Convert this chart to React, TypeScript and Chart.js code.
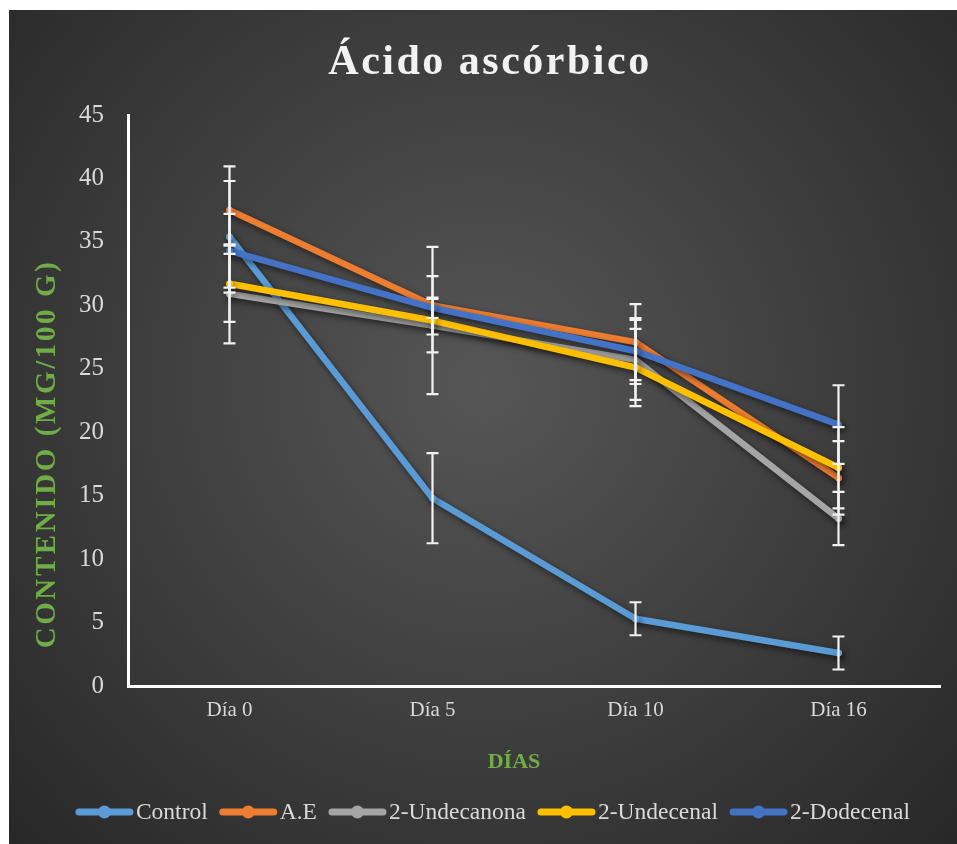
import React, { useEffect, useRef } from "react";
import { Chart, registerables } from "chart.js";

Chart.register(...registerables);

const categories = ["Día 0", "Día 5", "Día 10", "Día 16"];
const seriesNames = ["Control", "A.E", "2-Undecanona", "2-Undecenal", "2-Dodecenal"];
const seriesColors = ["#5B9BD5", "#ED7D31", "#A5A5A5", "#FFC000", "#4472C4"];

const controlValues = [35.4, 14.8, 5.3, 2.6];
const aeValues = [37.5, 30.0, 27.1, 16.4];
const undecanonaValues = [30.9, 28.4, 25.7, 13.2];
const undecenalValues = [31.7, 28.8, 25.1, 17.2];
const dodecenalValues = [34.3, 29.8, 26.4, 20.6];

const controlErrors = [4.4, 3.55, 1.3, 1.3];
const aeErrors = [3.45, 2.3, 3.0, 2.9];
const undecanonaErrors = [3.9, 2.1, 3.15, 2.1];
const undecenalErrors = [3.0, 5.8, 3.05, 3.2];
const dodecenalErrors = [2.9, 0.8, 2.6, 3.1];

const yTicks = [0, 5, 10, 15, 20, 25, 30, 35, 40, 45];

const titleText = "Ácido ascórbico";
const yTitleText = "CONTENIDO (MG/100 G)";
const xTitleText = "DÍAS";

const allValues = [controlValues, aeValues, undecanonaValues, undecenalValues, dodecenalValues];
const allErrors = [controlErrors, aeErrors, undecanonaErrors, undecenalErrors, dodecenalErrors];

const SERIF = "'Liberation Serif', 'Times New Roman', serif";

const backgroundPlugin = {
  id: "bgGradient",
  beforeDraw(chart: any) {
    const { ctx, width, height } = chart;
    ctx.save();
    const g = ctx.createRadialGradient(width / 2, height * 0.45, 0, width / 2, height * 0.45, Math.max(width, height) * 0.72);
    g.addColorStop(0, "#565656");
    g.addColorStop(1, "#262626");
    ctx.fillStyle = g;
    ctx.fillRect(0, 0, width, height);
    ctx.restore();
  },
};

const shadowPlugin = {
  id: "lineShadow",
  beforeDatasetsDraw(chart: any) {
    const ctx = chart.ctx;
    ctx.save();
    ctx.shadowColor = "rgba(0,0,0,0.55)";
    ctx.shadowBlur = 6;
    ctx.shadowOffsetX = 2;
    ctx.shadowOffsetY = 3;
  },
  afterDatasetsDraw(chart: any) {
    chart.ctx.restore();
  },
};

const errorBarPlugin = {
  id: "errorBars",
  afterDatasetsDraw(chart: any) {
    const ctx = chart.ctx;
    const yScale = chart.scales.y;
    ctx.save();
    ctx.shadowColor = "transparent";
    ctx.strokeStyle = "#f2f2f2";
    ctx.lineWidth = 2.2;
    chart.data.datasets.forEach((ds: any, di: number) => {
      const meta = chart.getDatasetMeta(di);
      const errs = allErrors[di];
      meta.data.forEach((pt: any, i: number) => {
        const v = ds.data[i];
        const e = errs[i];
        const x = pt.x;
        const yTop = yScale.getPixelForValue(v + e);
        const yBot = yScale.getPixelForValue(v - e);
        ctx.beginPath();
        ctx.moveTo(x, yTop);
        ctx.lineTo(x, yBot);
        ctx.moveTo(x - 6, yTop);
        ctx.lineTo(x + 6, yTop);
        ctx.moveTo(x - 6, yBot);
        ctx.lineTo(x + 6, yBot);
        ctx.stroke();
      });
    });
    ctx.restore();
  },
};

const textPlugin = {
  id: "texts",
  afterDraw(chart: any) {
    const { ctx } = chart;
    ctx.save();
    // Title
    ctx.fillStyle = "#f2f2f2";
    ctx.font = `bold 42px ${SERIF}`;
    (ctx as any).letterSpacing = "2.5px";
    ctx.textAlign = "center";
    ctx.textBaseline = "alphabetic";
    ctx.fillText(titleText, 481, 64);
    (ctx as any).letterSpacing = "0px";

    // Y title
    ctx.save();
    ctx.fillStyle = "#70AD47";
    ctx.font = `bold 29px ${SERIF}`;
    (ctx as any).letterSpacing = "2.6px";
    ctx.translate(38.5, 444);
    ctx.rotate(-Math.PI / 2);
    ctx.textAlign = "center";
    ctx.textBaseline = "middle";
    ctx.fillText(yTitleText, 0, 0);
    (ctx as any).letterSpacing = "0px";
    ctx.restore();

    // X title
    ctx.fillStyle = "#70AD47";
    ctx.font = `bold 22px ${SERIF}`;
    ctx.textAlign = "center";
    ctx.textBaseline = "middle";
    ctx.fillText(xTitleText, 505, 752);

    // Legend
    ctx.font = `23.5px ${SERIF}`;
    const lineLen = 57;
    const gapText = 3;
    const gapItem = 12;
    const widths = seriesNames.map((n) => lineLen + gapText + ctx.measureText(n).width);
    const total = widths.reduce((a, b) => a + b, 0) + gapItem * (seriesNames.length - 1);
    let x = 484 - total / 2;
    const ly = 802;
    seriesNames.forEach((name, i) => {
      ctx.strokeStyle = seriesColors[i];
      ctx.lineWidth = 7;
      ctx.lineCap = "round";
      ctx.beginPath();
      ctx.moveTo(x + 3, ly);
      ctx.lineTo(x + lineLen - 3, ly);
      ctx.stroke();
      ctx.fillStyle = seriesColors[i];
      ctx.beginPath();
      ctx.arc(x + lineLen / 2, ly, 6.5, 0, Math.PI * 2);
      ctx.fill();
      ctx.fillStyle = "#d9d9d9";
      ctx.textAlign = "left";
      ctx.textBaseline = "middle";
      ctx.fillText(name, x + lineLen + gapText, ly + 1);
      x += widths[i] + gapItem;
    });
    ctx.restore();
  },
};

export default function App() {
  const canvasRef = useRef<HTMLCanvasElement | null>(null);

  useEffect(() => {
    if (!canvasRef.current) return;
    const datasets = seriesNames.map((name, i) => ({
      label: name,
      data: allValues[i],
      borderColor: seriesColors[i],
      backgroundColor: seriesColors[i],
      borderWidth: 6.5,
      borderCapStyle: "round" as const,
      borderJoinStyle: "round" as const,
      pointRadius: 3.5,
      pointBorderWidth: 0,
      pointBackgroundColor: seriesColors[i],
      tension: 0,
      order: seriesNames.length - 1 - i,
    }));

    const chart = new Chart(canvasRef.current, {
      type: "line",
      data: { labels: categories, datasets },
      options: {
        animation: false,
        responsive: false,
        maintainAspectRatio: false,
        devicePixelRatio: 1,
        layout: { padding: { top: 105, right: 17, bottom: 118, left: 0 } },
        plugins: {
          legend: { display: false },
          title: { display: false },
          tooltip: { enabled: false },
        },
        scales: {
          x: {
            type: "category",
            offset: true,
            grid: { display: false, drawTicks: false },
            border: { display: true, color: "#ffffff", width: 3 },
            ticks: {
              color: "#d9d9d9",
              font: { family: SERIF, size: 21 },
              padding: 12,
            },
            afterFit: (scale: any) => {
              scale.height = 40;
            },
          },
          y: {
            type: "linear",
            min: 0,
            max: 45,
            afterBuildTicks: (scale: any) => {
              scale.ticks = yTicks.map((v) => ({ value: v }));
            },
            grid: { display: false, drawTicks: false },
            border: { display: true, color: "#ffffff", width: 3 },
            ticks: {
              color: "#d9d9d9",
              font: { family: SERIF, size: 25 },
              padding: 24,
            },
            afterFit: (scale: any) => {
              scale.width = 119;
            },
          },
        },
      },
      plugins: [backgroundPlugin, shadowPlugin, errorBarPlugin, textPlugin],
    });
    return () => chart.destroy();
  }, []);

  return (
    <div style={{ position: "fixed", left: 9, top: 10, width: 948, height: 834 }}>
      <canvas ref={canvasRef} width={948} height={834} style={{ width: 948, height: 834, display: "block" }} />
    </div>
  );
}
